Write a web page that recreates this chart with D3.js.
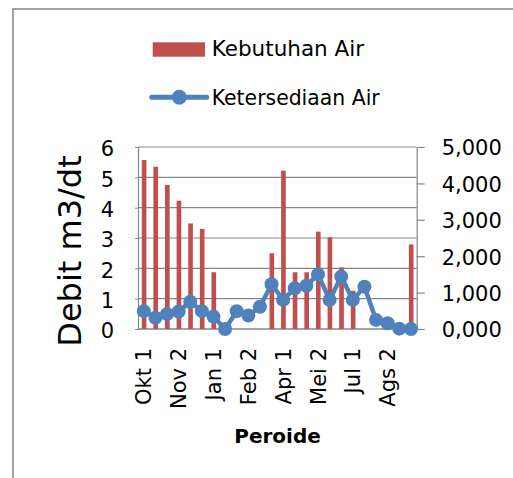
<!DOCTYPE html>
<html>
<head>
<meta charset="utf-8">
<script src="https://cdn.jsdelivr.net/npm/d3@7/dist/d3.min.js"></script>
<style>
html,body{margin:0;padding:0;background:#fff;}
svg{display:block;}
text{font-family:"DejaVu Sans",sans-serif;fill:#000;}
</style>
</head>
<body>
<svg id="chart" width="513" height="478"></svg>
<script>
const categories = ["Okt 1","Okt 2","Nov 1","Nov 2","Des 1","Des 2","Jan 1","Jan 2","Feb 1","Feb 2","Mar 1","Mar 2",
  "Apr 1","Apr 2","Mei 1","Mei 2","Jun 1","Jun 2","Jul 1","Jul 2","Ags 1","Ags 2","Sep 1","Sep 2"];
const kebutuhanAir = [5.57,5.35,4.75,4.23,3.48,3.30,1.87,0,0,0,0,2.50,5.22,1.87,1.87,3.21,3.02,2.03,1.26,0,0,0,0,2.79];
const ketersediaanAir = [0.49,0.31,0.41,0.48,0.75,0.49,0.34,0.00,0.49,0.37,0.61,1.23,0.80,1.12,1.19,1.50,0.80,1.44,0.80,1.16,0.25,0.16,0.01,0.00];
const leftTicks = [0,1,2,3,4,5,6];
const rightTicks = [0,1,2,3,4,5];
const xLabelCats = ["Okt 1","Nov 2","Jan 1","Feb 2","Apr 1","Mei 2","Jul 1","Ags 2"];
const seriesNames = ["Kebutuhan Air","Ketersediaan Air"];
const axisTitleY = "Debit m3/dt";
const axisTitleX = "Peroide";

const svg = d3.select("#chart");
const plot = {left:138, right:416.7, top:147, bottom:329};
const barColor = "#c0504d", lineColor = "#4f81bd", gridColor = "#868686";

// chart border
svg.append("rect").attr("x",13).attr("y",9).attr("width",520).attr("height",490)
  .attr("fill","none").attr("stroke","#8a8a8a").attr("stroke-width",1.6);

const x = d3.scaleBand().domain(categories).range([plot.left, plot.right]).padding(0);
const yL = d3.scaleLinear().domain([0,6]).range([plot.bottom, plot.top]);
const yR = d3.scaleLinear().domain([0,5]).range([plot.bottom, plot.top]);

// gridlines
svg.append("g").selectAll("line").data(leftTicks).join("line")
  .attr("x1",plot.left).attr("x2",plot.right)
  .attr("y1",d=>yL(d)).attr("y2",d=>yL(d))
  .attr("stroke",gridColor).attr("stroke-width",1.2);

// left axis
const gL = svg.append("g").attr("transform",`translate(${plot.left},0)`)
  .call(d3.axisLeft(yL).tickValues(leftTicks).tickSize(3).tickPadding(21).tickFormat(d3.format("d")));
gL.select(".domain").attr("stroke",gridColor).attr("stroke-width",1.2);
gL.selectAll(".tick line").attr("stroke",gridColor);
gL.selectAll(".tick text").attr("font-size",21).attr("font-family","DejaVu Sans").attr("fill","#000").attr("dy","0.42em");

// right axis
const locale = d3.formatLocale({decimal:",",thousands:".",grouping:[3],currency:["",""]});
const gR = svg.append("g").attr("transform",`translate(${plot.right},0)`)
  .call(d3.axisRight(yR).tickValues(rightTicks).tickSize(8).tickSizeOuter(0).tickPadding(17).tickFormat(locale.format(".3f")));
gR.select(".domain").attr("stroke",gridColor).attr("stroke-width",1.2);
gR.selectAll(".tick line").attr("stroke",gridColor).attr("stroke-width",1.2);
gR.selectAll(".tick text").attr("font-size",21).attr("font-family","DejaVu Sans").attr("fill","#000").attr("dy","0.38em");

// bottom axis line
svg.append("line").attr("x1",plot.left).attr("x2",plot.right).attr("y1",plot.bottom).attr("y2",plot.bottom)
  .attr("stroke",gridColor).attr("stroke-width",1.2);

// bars
const bw = x.bandwidth()*0.4;
svg.append("g").selectAll("rect").data(categories.map((c,i)=>({c,v:kebutuhanAir[i]}))).join("rect")
  .attr("x",d=>x(d.c)+x.bandwidth()/2-bw/2+0.3)
  .attr("width",bw)
  .attr("y",d=>yL(d.v))
  .attr("height",d=>yL(0)-yL(d.v))
  .attr("fill",barColor);

// line
const lineData = categories.map((c,i)=>({c,v:ketersediaanAir[i]}));
svg.append("path").datum(lineData)
  .attr("d",d3.line().x(d=>x(d.c)+x.bandwidth()/2).y(d=>yR(d.v)))
  .attr("fill","none").attr("stroke",lineColor).attr("stroke-width",4.5).attr("stroke-linejoin","round");
svg.append("g").selectAll("circle").data(lineData).join("circle")
  .attr("cx",d=>x(d.c)+x.bandwidth()/2).attr("cy",d=>yR(d.v)).attr("r",7)
  .attr("fill",lineColor);

// x labels
svg.append("g").selectAll("text").data(xLabelCats).join("text")
  .attr("transform",d=>`translate(${x(d)+x.bandwidth()/2},348) rotate(-90)`)
  .attr("text-anchor","end").attr("dy","0.36em").attr("font-size",21)
  .text(d=>d);

// axis titles
svg.append("text").attr("transform","translate(69,251) rotate(-90)")
  .attr("text-anchor","middle").attr("dy","0.36em").attr("font-size",32).text(axisTitleY);
svg.append("text").attr("x",277.5).attr("y",442.5).attr("text-anchor","middle")
  .attr("font-size",20).attr("font-weight","bold").text(axisTitleX);

// legend
const lg = svg.append("g");
lg.append("rect").attr("x",152.7).attr("y",42.3).attr("width",52.3).attr("height",14.4).attr("fill",barColor);
lg.append("text").attr("x",211.7).attr("y",56).attr("font-size",21.5).text(seriesNames[0]);
lg.append("line").attr("x1",151.7).attr("x2",206.7).attr("y1",97.3).attr("y2",97.3)
  .attr("stroke",lineColor).attr("stroke-width",5).attr("stroke-linecap","round");
lg.append("circle").attr("cx",179.3).attr("cy",97.3).attr("r",7.5).attr("fill",lineColor);
lg.append("text").attr("x",211.7).attr("y",105).attr("font-size",20.4).text(seriesNames[1]);
</script>
</body>
</html>
